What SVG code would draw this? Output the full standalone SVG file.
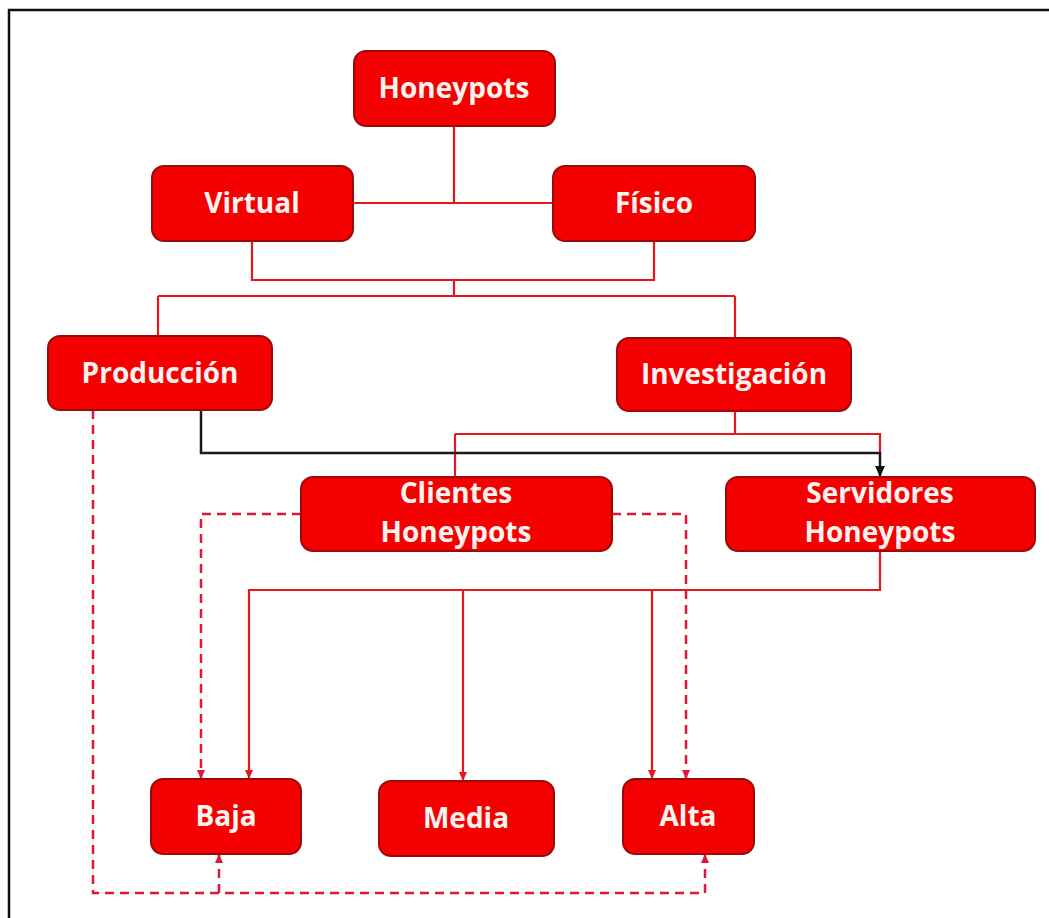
<svg xmlns="http://www.w3.org/2000/svg" width="1049" height="918" viewBox="0 0 1049 918">
<defs>
<style>
.box{fill:#f50000;stroke:#9a0a0a;stroke-width:2}
.lbl{font-family:"Open Sans","Liberation Sans",sans-serif;font-weight:bold;font-size:28px;fill:#fff3f0;text-anchor:middle}
.ln{fill:none;stroke:#e8161c;stroke-width:2.2}
.bk{fill:none;stroke:#1a1a1a;stroke-width:2.5}
.ds{fill:none;stroke:#e0163a;stroke-width:2.5;stroke-dasharray:9 6}
</style>
<marker id="ar" markerWidth="10" markerHeight="10" refX="8" refY="5" orient="auto" markerUnits="userSpaceOnUse">
<path d="M0,1 L9,5 L0,9 Z" fill="#e8161c"/>
</marker>
<marker id="ard" markerWidth="10" markerHeight="10" refX="8" refY="5" orient="auto" markerUnits="userSpaceOnUse">
<path d="M0,1 L9,5 L0,9 Z" fill="#e0163a"/>
</marker>
<marker id="arb" markerWidth="12" markerHeight="12" refX="10" refY="6" orient="auto" markerUnits="userSpaceOnUse">
<path d="M0,1 L11,6 L0,11 Z" fill="#111"/>
</marker>
</defs>
<rect x="0" y="0" width="1049" height="918" fill="#ffffff"/>
<path d="M9 918 V10 H1049" fill="none" stroke="#111" stroke-width="2.5"/>
<g id="connectors">
<path class="ln" d="M454 126 V203 M353 203 H553"/>
<path class="ln" d="M252 241 V280 H654 V241 M454 280 V296 M158 296 H735 M158 296 V336 M735 296 V338"/>
<path class="ln" d="M735 411 V434 M455 434 H880 V453 M455 434 V477"/>
<path class="bk" d="M201 410 V453 H880 V476" marker-end="url(#arb)"/>
<path class="ln" d="M880 551 V590 H249 V778" marker-end="url(#ar)"/>
<path class="ln" d="M463 590 V780" marker-end="url(#ar)"/>
<path class="ln" d="M652 590 V778" marker-end="url(#ar)"/>
<path class="ds" d="M301 514 H201 V778" marker-end="url(#ard)"/>
<path class="ds" d="M612 514 H686 V778" marker-end="url(#ard)"/>
<path class="ds" d="M93 410 V893 H705 V855" marker-end="url(#ard)"/>
<path class="ds" d="M219 893 V855" marker-end="url(#ard)"/>
</g>
<g id="honeypots"><rect class="box" x="354" y="51" width="201" height="75" rx="12"/><text class="lbl" x="454" y="98">Honeypots</text></g>
<g id="virtual"><rect class="box" x="152" y="166" width="201" height="75" rx="12"/><text class="lbl" x="252" y="213">Virtual</text></g>
<g id="fisico"><rect class="box" x="553" y="166" width="202" height="75" rx="12"/><text class="lbl" x="654" y="213">Físico</text></g>
<g id="produccion"><rect class="box" x="48" y="336" width="224" height="74" rx="12"/><text class="lbl" x="160" y="383">Producción</text></g>
<g id="investigacion"><rect class="box" x="617" y="338" width="234" height="73" rx="12"/><text class="lbl" x="734" y="384">Investigación</text></g>
<g id="clientes"><rect class="box" x="301" y="477" width="311" height="74" rx="12"/><text class="lbl" x="456" y="503">Clientes</text><text class="lbl" x="456" y="542">Honeypots</text></g>
<g id="servidores"><rect class="box" x="726" y="477" width="309" height="74" rx="12"/><text class="lbl" x="880" y="503">Servidores</text><text class="lbl" x="880" y="542">Honeypots</text></g>
<g id="baja"><rect class="box" x="151" y="779" width="150" height="75" rx="12"/><text class="lbl" x="226" y="826">Baja</text></g>
<g id="media"><rect class="box" x="379" y="781" width="175" height="75" rx="12"/><text class="lbl" x="466" y="828">Media</text></g>
<g id="alta"><rect class="box" x="623" y="779" width="131" height="75" rx="12"/><text class="lbl" x="688" y="826">Alta</text></g>
</svg>
